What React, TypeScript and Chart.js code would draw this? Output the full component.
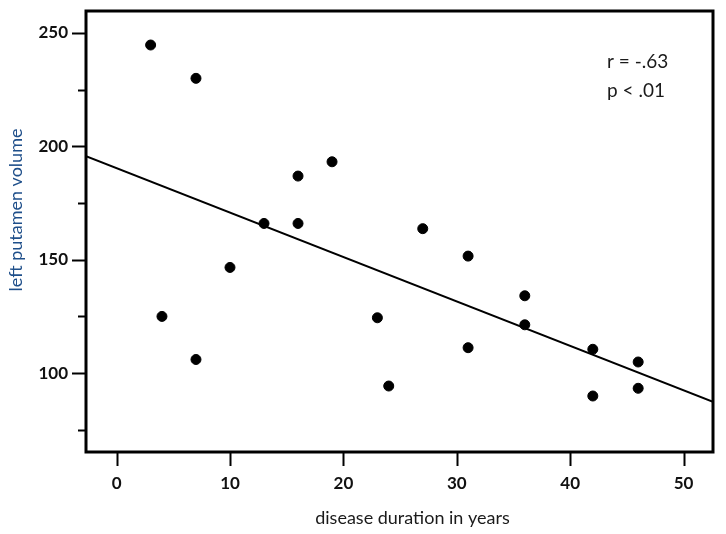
import React, { useEffect, useRef } from "react";
import { Chart, registerables } from "chart.js";

Chart.register(...registerables);

// Data
const durations = [3, 7, 4, 7, 10, 13, 16, 16, 19, 23, 24, 27, 31, 31, 36, 36, 42, 42, 46, 46];
const volumes = [244.7, 230.0, 125.0, 106.0, 146.6, 166.0, 166.0, 186.9, 193.2, 124.4, 94.3, 163.7, 151.6, 111.2, 134.1, 121.3, 110.5, 89.9, 104.9, 93.3];
const fitX = [-2.7, 52.6];
const fitY = [195.7, 87.3];
const xTickValues = [0, 10, 20, 30, 40, 50];
const yTickValues = [75, 100, 125, 150, 175, 200, 225, 250];
const yMajorTicks = [100, 150, 200, 250];
const xAxisTitle = "disease duration in years";
const yAxisTitle = "left putamen volume";
const statLines = ["r = -.63", "p < .01"];

const FONT = "Lato, 'Open Sans', sans-serif";

const framePlugin = {
  id: "frame",
  afterDraw(chart: any) {
    const { ctx, chartArea } = chart;
    const { left, right, top, bottom } = chartArea;
    ctx.save();
    ctx.strokeStyle = "#000";
    ctx.lineWidth = 3;
    ctx.strokeRect(left, top, right - left, bottom - top);

    // tick marks
    ctx.lineWidth = 2;
    const ys = chart.scales.y;
    yTickValues.forEach((v) => {
      const py = Math.round(ys.getPixelForValue(v)) + 0.5;
      const len = yMajorTicks.includes(v) ? 14 : 8;
      ctx.beginPath();
      ctx.moveTo(left, py);
      ctx.lineTo(left - len, py);
      ctx.stroke();
    });
    const xs = chart.scales.x;
    xTickValues.forEach((v) => {
      const px = Math.round(xs.getPixelForValue(v)) + 0.5;
      ctx.beginPath();
      ctx.moveTo(px, bottom);
      ctx.lineTo(px, bottom + 14);
      ctx.stroke();
    });

    // axis titles
    ctx.fillStyle = "#1a1a1a";
    ctx.font = `18px ${FONT}`;
    ctx.textAlign = "center";
    ctx.textBaseline = "middle";
    ctx.fillText(xAxisTitle, (left + right) / 2 + 13, 518);

    ctx.save();
    ctx.translate(16, 210);
    ctx.rotate(-Math.PI / 2);
    ctx.fillStyle = "#1f4f8a";
    ctx.fillText(yAxisTitle, 0, 0);
    ctx.restore();

    // stats annotation
    ctx.fillStyle = "#1a1a1a";
    ctx.font = `19px ${FONT}`;
    ctx.textAlign = "left";
    ctx.textBaseline = "middle";
    ctx.fillText(statLines[0], 607, 62);
    ctx.fillText(statLines[1], 607, 91);
    ctx.restore();
  },
};

export default function App() {
  const ref = useRef<HTMLCanvasElement>(null);

  useEffect(() => {
    document.body.style.margin = "0";
    const canvas = ref.current!;
    const chart = new Chart(canvas, {
      type: "scatter",
      data: {
        datasets: [
          {
            label: "patients",
            data: durations.map((d, i) => ({ x: d, y: volumes[i] })),
            backgroundColor: "#000",
            borderColor: "#000",
            pointRadius: 5,
            pointHoverRadius: 5,
            order: 1,
          },
          {
            label: "fit",
            type: "line",
            data: fitX.map((x, i) => ({ x, y: fitY[i] })),
            borderColor: "#000",
            borderWidth: 2,
            pointRadius: 0,
            fill: false,
            order: 2,
          } as any,
        ],
      },
      options: {
        animation: false,
        responsive: false,
        maintainAspectRatio: false,
        layout: { padding: { top: 11, right: 13, left: 0, bottom: 0 } },
        plugins: {
          legend: { display: false },
          tooltip: { enabled: false },
        },
        scales: {
          x: {
            type: "linear",
            min: -2.7,
            max: 52.6,
            grid: { display: false, drawTicks: false },
            border: { display: false },
            afterBuildTicks: (s: any) => {
              s.ticks = xTickValues.map((v) => ({ value: v }));
            },
            afterFit: (s: any) => {
              s.height = 82;
              s.paddingLeft = 0;
              s.paddingRight = 0;
            },
            ticks: {
              padding: 21,
              color: "#111",
              font: { family: FONT, size: 17, weight: "bold" },
              maxRotation: 0,
              autoSkip: false,
              callback: (v: any) => String(v),
            },
          },
          y: {
            type: "linear",
            min: 65.2,
            max: 259.7,
            grid: { display: false, drawTicks: false },
            border: { display: false },
            afterBuildTicks: (s: any) => {
              s.ticks = yTickValues.map((v) => ({ value: v }));
            },
            afterFit: (s: any) => {
              s.width = 86;
              s.paddingTop = 0;
              s.paddingBottom = 0;
            },
            ticks: {
              padding: 18,
              color: "#111",
              font: { family: FONT, size: 17, weight: "bold" },
              autoSkip: false,
              callback: (v: any) => (yMajorTicks.includes(Number(v)) ? String(v) : ""),
            },
          },
        },
      },
      plugins: [framePlugin],
    });
    return () => chart.destroy();
  }, []);

  return (
    <div style={{ width: 726, height: 534, background: "#fff" }}>
      <canvas ref={ref} width={726} height={534} style={{ display: "block" }} />
    </div>
  );
}
